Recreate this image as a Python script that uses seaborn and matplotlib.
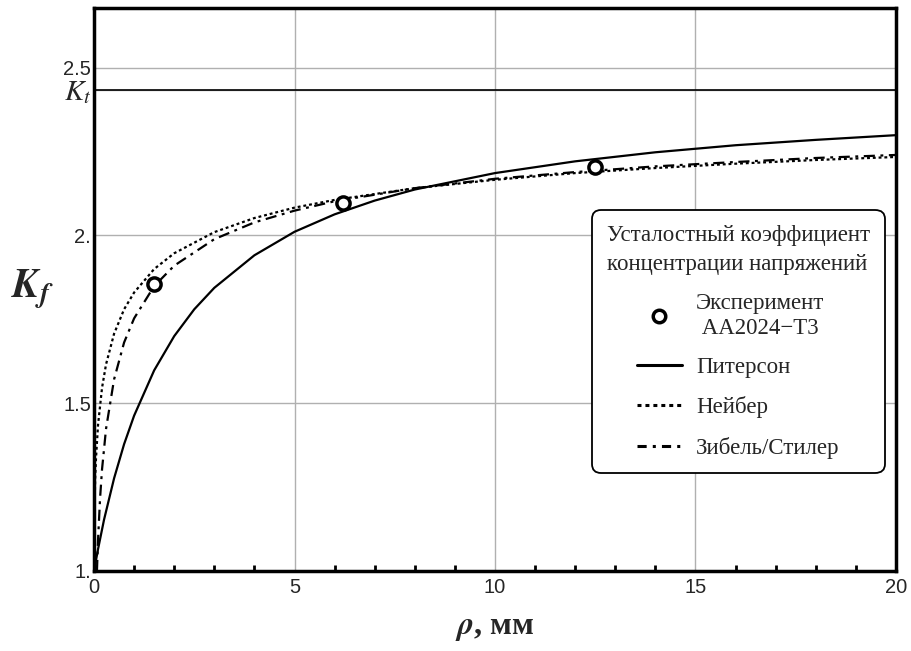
import numpy as np
import pandas as pd
import matplotlib
matplotlib.use("Agg")
import matplotlib.pyplot as plt
from matplotlib.lines import Line2D
from matplotlib.ticker import FixedLocator, MultipleLocator
import seaborn as sns

# ---- data ----
Kt = 2.435

rho_pet = [0.0, 0.1, 0.25, 0.5, 0.75, 1.0, 1.5, 2.0, 2.5, 3.0, 4.0, 5.0, 6.0, 7.0, 8.0, 10.0, 12.0, 14.0, 16.0, 18.0, 20.0]
kf_pet = [1.0, 1.065, 1.153, 1.276, 1.378, 1.463, 1.598, 1.700, 1.780, 1.844, 1.941, 2.011, 2.063, 2.104, 2.137, 2.186, 2.221, 2.248, 2.269, 2.285, 2.299]

rho_neu = [0.0, 0.002, 0.01, 0.03, 0.05, 0.1, 0.2, 0.3, 0.5, 0.75, 1.0, 1.5, 2.0, 3.0, 4.0, 5.0, 6.0, 8.0, 10.0, 12.0, 14.0, 16.0, 18.0, 20.0]
kf_neu = [1.0, 1.085, 1.173, 1.280, 1.337, 1.435, 1.546, 1.616, 1.707, 1.780, 1.830, 1.900, 1.947, 2.010, 2.052, 2.083, 2.106, 2.141, 2.166, 2.186, 2.201, 2.214, 2.225, 2.234]

rho_sie = [0.073, 0.075, 0.1, 0.15, 0.2, 0.3, 0.5, 0.75, 1.0, 1.5, 2.0, 3.0, 4.0, 5.0, 6.0, 8.0, 10.0, 12.0, 14.0, 16.0, 18.0, 20.0]
kf_sie = [1.0, 1.007, 1.092, 1.215, 1.303, 1.424, 1.571, 1.681, 1.753, 1.849, 1.910, 1.989, 2.039, 2.074, 2.102, 2.141, 2.169, 2.189, 2.206, 2.219, 2.231, 2.240]

rho_exp = [1.5, 6.2, 12.5]
kf_exp = [1.855, 2.098, 2.203]

x_ticks = [0, 5, 10, 15, 20]
x_ticklabels = ["0", "5", "10", "15", "20"]
y_ticks = [1.0, 1.5, 2.0, 2.5]
y_ticklabels = ["1.", "1.5", "2.", "2.5"]

legend_title = "Усталостный коэффициент\nконцентрации напряжений"
labels = ["Эксперимент\n АА2024−Т3", "Питерсон", "Нейбер", "Зибель/Стилер"]

# ---- plotting ----
sns.set_theme(style="white")
plt.rcParams["font.family"] = ["Liberation Sans", "DejaVu Sans"]
plt.rcParams["mathtext.fontset"] = "stix"

fig = plt.figure(figsize=(9.11, 6.51), dpi=100)
ax = fig.add_axes([0.1032, 0.1229, 0.8803, 0.8648])

lw = 1.6
df_pet = pd.DataFrame({"rho": rho_pet, "kf": kf_pet})
df_neu = pd.DataFrame({"rho": rho_neu, "kf": kf_neu})
df_sie = pd.DataFrame({"rho": rho_sie, "kf": kf_sie})
df_exp = pd.DataFrame({"rho": rho_exp, "kf": kf_exp})

ax.grid(True, color="#b0b0b0", linewidth=1.0)
ax.set_axisbelow(True)
ax.axhline(Kt, color="black", linewidth=1.2, zorder=2)

sns.lineplot(data=df_pet, x="rho", y="kf", ax=ax, color="black", linewidth=lw, linestyle="-", estimator=None, sort=False, zorder=3)
sns.lineplot(data=df_neu, x="rho", y="kf", ax=ax, color="black", linewidth=lw, linestyle=(0, (1.3, 1.3)), estimator=None, sort=False, zorder=3)
sns.lineplot(data=df_sie, x="rho", y="kf", ax=ax, color="black", linewidth=lw, linestyle=(0, (5, 2.5, 1.3, 2.5)), estimator=None, sort=False, zorder=3)
sns.scatterplot(data=df_exp, x="rho", y="kf", ax=ax, marker="o", s=90, facecolor="white", edgecolor="black", linewidth=2.5, zorder=4)

ax.set_xlim(0, 20)
ax.set_ylim(1.0, 2.678)

ax.xaxis.set_major_locator(FixedLocator(x_ticks))
ax.set_xticklabels(x_ticklabels)
ax.xaxis.set_minor_locator(MultipleLocator(1))
ax.yaxis.set_major_locator(FixedLocator(y_ticks + [Kt]))
ax.set_yticklabels(y_ticklabels + ["$K_t$"])

ax.tick_params(axis="both", which="major", direction="in", length=7, width=2.2, color="black", labelsize=14.5, pad=3)
ax.tick_params(axis="x", which="minor", direction="in", length=4, width=2, color="black", bottom=True)
ax.tick_params(axis="y", which="major", pad=2)
ax.tick_params(axis="x", which="major", pad=5)

for lab in ax.get_yticklabels():
    if lab.get_text() == "$K_t$":
        lab.set_fontsize(21)

for s in ax.spines.values():
    s.set_visible(True)
    s.set_color("black")
    s.set_linewidth(2.5)

ax.set_xlabel(r"$\mathbfit{\rho}$, мм", fontsize=23, fontweight="bold", family=["Liberation Serif", "DejaVu Serif"], labelpad=12)
ax.set_ylabel(r"$\mathbfit{K_f}$", fontsize=29, rotation=0, family=["Liberation Serif", "DejaVu Serif"])
ax.yaxis.set_label_coords(-0.077, 0.46)

handles = [
    Line2D([], [], marker="o", linestyle="none", markersize=9, markerfacecolor="white", markeredgecolor="black", markeredgewidth=2.5),
    Line2D([], [], color="black", linewidth=2.2, linestyle="-"),
    Line2D([], [], color="black", linewidth=2.2, linestyle=(0, (1.3, 1.3))),
    Line2D([], [], color="black", linewidth=2.2, linestyle=(0, (3, 2, 1, 2))),
]
leg = ax.legend(handles, labels, title=legend_title, loc="upper left", bbox_to_anchor=(0.6205, 0.641),
                frameon=True, fancybox=True, edgecolor="black", framealpha=1,
                prop={"family": ["Liberation Serif", "DejaVu Serif"], "size": 16.5},
                title_fontproperties={"family": ["Liberation Serif", "DejaVu Serif"], "size": 16.5},
                handlelength=2.0, handletextpad=0.6, labelspacing=0.8, borderpad=0.65, borderaxespad=0.0)
leg.get_frame().set_linewidth(1.3)
leg.get_frame().set_boxstyle("round,pad=0,rounding_size=0.4")
leg.get_title().set_linespacing(1.5)
for t in leg.get_texts():
    t.set_linespacing(1.2)

fig.savefig("out.png", dpi=100)
